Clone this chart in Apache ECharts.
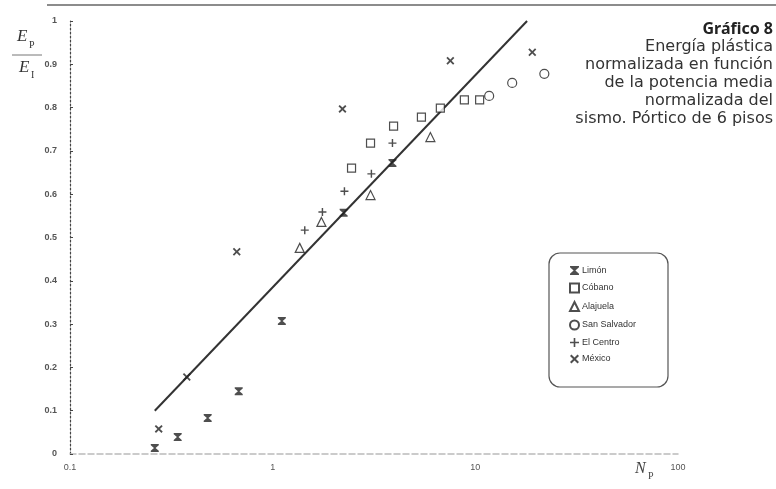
<!DOCTYPE html>
<html>
<head>
<meta charset="utf-8">
<script src="https://cdn.jsdelivr.net/npm/echarts@6/dist/echarts.min.js"></script>
<style>
html,body{margin:0;padding:0;background:#fff;}
#c{width:776px;height:489px;}
</style>
</head>
<body>
<div id="c"></div>
<script>
// ---- data ----
var limon = [[0.262,0.014],[0.340,0.039],[0.478,0.083],[0.680,0.145],[1.11,0.307],[2.24,0.557],[3.90,0.672]];
var cobano = [[2.45,0.66],[3.04,0.718],[3.95,0.757],[5.42,0.778],[6.72,0.799],[8.83,0.818],[10.5,0.818]];
var alajuela = [[1.36,0.476],[1.74,0.536],[3.04,0.598],[6.0,0.732]];
var sanSalvador = [[11.7,0.827],[15.2,0.857],[21.9,0.878]];
var elCentro = [[1.44,0.517],[1.76,0.559],[2.26,0.607],[3.07,0.647],[3.90,0.718]];
var mexico = [[0.274,0.058],[0.377,0.178],[0.665,0.467],[2.21,0.797],[7.53,0.908],[19.1,0.928]];
var fitLine = [[0.262,0.1],[18.0,1.0]];
var yTickLabels = ['0','0.1','0.2','0.3','0.4','0.5','0.6','0.7','0.8','0.9','1'];
var xTickLabels = {'0.1':'0.1','1':'1','10':'10','100':'100'};
var seriesNames = ['Limón','Cóbano','Alajuela','San Salvador','El Centro','México'];
var captionTitle = 'Gráfico 8';
var captionLines = ['Energía plástica','normalizada en función','de la potencia media','normalizada del','sismo. Pórtico de 6 pisos'];

var ink = '#222';
var hourglass = 'path://M0,0L10,0L10,1.5L6,5L10,8.5L10,10L0,10L0,8.5L4,5L0,1.5Z';
var cross = 'path://M0,1.6L1.6,0L5,3.4L8.4,0L10,1.6L6.6,5L10,8.4L8.4,10L5,6.6L1.6,10L0,8.4L3.4,5Z';
var plus = 'path://M4.1,0L5.9,0L5.9,4.1L10,4.1L10,5.9L5.9,5.9L5.9,10L4.1,10L4.1,5.9L0,5.9L0,4.1L4.1,4.1Z';

function sc(name, data, symbol, size, hollow){
  return {
    name: name, type: 'scatter', data: data, symbol: symbol, symbolSize: size,
    itemStyle: hollow ? {color:'#fff', borderColor: ink, borderWidth: 1.2} : {color: ink},
    z: 3
  };
}

var chart = echarts.init(document.getElementById('c'), null, {renderer:'canvas'});
chart.setOption({
  animation: false,
  backgroundColor: '#fff',
  grid: {left: 70, right: 98, top: 21, bottom: 35, containLabel: false},
  xAxis: {
    type: 'log', logBase: 10, min: 0.1, max: 100,
    axisLine: {show: true, onZero: false, lineStyle: {color: '#bbb', type: 'dashed', width: 1.5}},
    axisTick: {show: false},
    minorTick: {show: false},
    splitLine: {show: false},
    axisLabel: {
      color: '#555', fontSize: 9, margin: 9, fontFamily: 'Liberation Sans',
      formatter: function(v){ var k = String(+v.toPrecision(3)); return xTickLabels[k] || ''; }
    }
  },
  yAxis: {
    type: 'value', min: 0, max: 1, interval: 0.1,
    axisLine: {show: true, lineStyle: {color: '#444', type: [2,2], width: 1.2}},
    axisTick: {show: true, length: 3, inside: true, lineStyle: {color: '#444'}},
    splitLine: {show: false},
    axisLabel: {
      color: '#555', fontSize: 9, margin: 13, fontFamily: 'Liberation Sans', fontWeight: 'bold',
      formatter: function(v){ return yTickLabels[Math.round(v*10)]; }
    }
  },
  legend: {
    orient: 'vertical', left: 564, top: 261,
    itemWidth: 9, itemHeight: 9, itemGap: 7.5,
    textStyle: {color: '#333', fontSize: 9, fontFamily: 'Liberation Sans', padding: [0,0,0,-2]},
    data: seriesNames
  },
  series: [
    sc(seriesNames[0], limon, hourglass, 8, false),
    sc(seriesNames[1], cobano, 'rect', 8, true),
    sc(seriesNames[2], alajuela, 'triangle', 9, true),
    sc(seriesNames[3], sanSalvador, 'circle', 9, true),
    sc(seriesNames[4], elCentro, plus, 8, false),
    sc(seriesNames[5], mexico, cross, 8, false),
    {
      type: 'line', data: fitLine, symbol: 'none', silent: true,
      lineStyle: {color: '#333', width: 2}, z: 2
    }
  ],
  graphic: [
    {type:'line', shape:{x1:47,y1:5,x2:776,y2:5}, style:{stroke:'#666', lineWidth:1.5}},
    {type:'rect', shape:{x:549,y:253,width:119,height:134,r:11}, style:{fill:'#fff', stroke:'#555', lineWidth:1.2}, z:-1},
    // y-axis title E_P / E_I
    {type:'text', left:17, top:28, style:{text:'E', font:'italic 17px "Liberation Serif"', fill:'#333'}},
    {type:'text', left:29, top:40, style:{text:'P', font:'10px "Liberation Serif"', fill:'#333'}},
    {type:'line', shape:{x1:12,y1:55,x2:42,y2:55}, style:{stroke:'#777', lineWidth:1}},
    {type:'text', left:19, top:59, style:{text:'E', font:'italic 17px "Liberation Serif"', fill:'#333'}},
    {type:'text', left:31, top:70, style:{text:'I', font:'10px "Liberation Serif"', fill:'#333'}},
    // x-axis title N_P
    {type:'text', left:635, top:461, style:{text:'N', font:'italic 16px "Liberation Serif"', fill:'#444'}},
    {type:'text', left:648, top:471, style:{text:'P', font:'10px "Liberation Serif"', fill:'#444'}},
    // caption
    {type:'text', right:3, top:20, style:{text:captionTitle, font:'bold 16px "Noto Sans"', lineHeight:18, fill:'#222', textAlign:'right'}},
    {type:'text', right:3, top:38, style:{text:captionLines.join('\n'), font:'16px "DejaVu Sans"', lineHeight:18, fill:'#333', textAlign:'right'}}
  ]
});
</script>
</body>
</html>
